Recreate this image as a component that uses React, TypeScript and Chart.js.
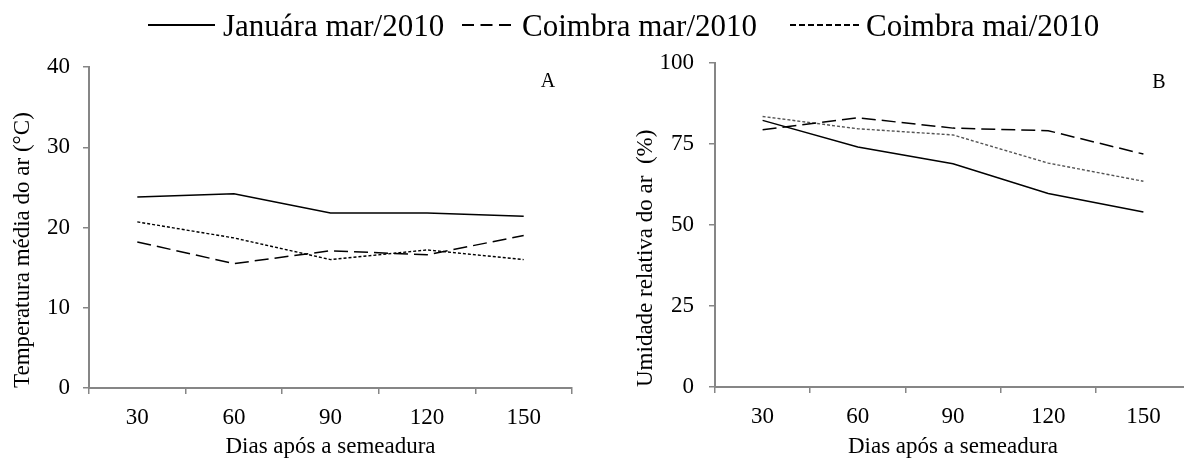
import React, { useEffect, useRef } from "react";
import { Chart, registerables } from "chart.js";

Chart.register(...registerables);

// ---- data ----
const categories = ["30", "60", "90", "120", "150"];
const seriesLabels = ["Januára mar/2010", "Coimbra mar/2010", "Coimbra mai/2010"];

const tempJanuaraMar = [23.8, 24.2, 21.8, 21.8, 21.4];
const tempCoimbraMar = [18.2, 15.5, 17.1, 16.6, 19.0];
const tempCoimbraMai = [20.7, 18.7, 16.0, 17.2, 16.0];

const humJanuaraMar = [82.3, 74.1, 68.9, 59.7, 54.0];
const humCoimbraMar = [79.4, 83.1, 79.9, 79.1, 71.9];
const humCoimbraMai = [83.5, 79.7, 77.8, 69.1, 63.5];

const tempRange = { min: 0, max: 40, step: 10 };
const humRange = { min: 0, max: 100, step: 25 };

const xTitle = "Dias após a semeadura";
const tempTitle = "Temperatura média do ar (°C)";
const humTitle = "Umidade relativa do ar  (%)";

const FONT = '"Liberation Serif", "Times New Roman", serif';
const AXIS_GRAY = "#868686";
const AXIS_FONT_SIZE = 23;

type PanelProps = {
  left: number;
  width: number;
  height: number;
  values: number[][];
  range: { min: number; max: number; step: number };
  yTitle: string;
  letter: string;
  padTop: number;
  padRight: number;
  yWidth: number;
  xHeight: number;
  yTitlePad: number;
  yTickPad: number;
  dottedColor: string;
  letterDx: number;
  letterDy: number;
};

function Panel(p: PanelProps) {
  const ref = useRef<HTMLCanvasElement | null>(null);
  useEffect(() => {
    if (!ref.current) return;
    const styles = [
      { dash: [] as number[], color: "#000", width: 1.5 },
      { dash: [14, 6], color: "#000", width: 1.5 },
      { dash: [3, 2], color: p.dottedColor, width: 1.4 },
    ];
    const letterPlugin = {
      id: "panelLetter",
      afterDraw(chart: any) {
        const { ctx, chartArea } = chart;
        ctx.save();
        ctx.font = `20px ${FONT}`;
        ctx.fillStyle = "#000";
        ctx.textAlign = "center";
        ctx.textBaseline = "middle";
        ctx.fillText(p.letter, chartArea.right - p.letterDx, chartArea.top + p.letterDy);
        ctx.restore();
      },
    };
    const chart = new Chart(ref.current, {
      type: "line",
      data: {
        labels: categories,
        datasets: p.values.map((v, i) => ({
          label: seriesLabels[i],
          data: v,
          borderColor: styles[i].color,
          borderWidth: styles[i].width,
          borderDash: styles[i].dash,
          pointRadius: 0,
          tension: 0,
          fill: false,
        })),
      },
      options: {
        animation: false,
        responsive: false,
        devicePixelRatio: 1,
        layout: { padding: { left: 0, top: p.padTop, right: p.padRight, bottom: 0 } },
        plugins: { legend: { display: false }, tooltip: { enabled: false } },
        scales: {
          x: {
            type: "category",
            offset: true,
            grid: {
              offset: true,
              drawOnChartArea: false,
              drawTicks: true,
              tickLength: 6,
              color: AXIS_GRAY,
              lineWidth: 1.5,
            },
            border: { color: AXIS_GRAY, width: 2 },
            ticks: { color: "#000", font: { family: FONT, size: AXIS_FONT_SIZE }, padding: 10, maxRotation: 0 },
            title: {
              display: true,
              text: xTitle,
              color: "#000",
              font: { family: FONT, size: AXIS_FONT_SIZE },
              padding: { top: 0, bottom: 0 },
            },
            afterFit: (scale: any) => {
              scale.height = p.xHeight;
            },
          },
          y: {
            min: p.range.min,
            max: p.range.max,
            grid: {
              drawOnChartArea: false,
              drawTicks: true,
              tickLength: 6,
              color: AXIS_GRAY,
              lineWidth: 1.5,
            },
            border: { color: AXIS_GRAY, width: 2 },
            ticks: {
              stepSize: p.range.step,
              color: "#000",
              font: { family: FONT, size: AXIS_FONT_SIZE },
              padding: p.yTickPad,
            },
            title: {
              display: true,
              text: p.yTitle,
              align: "start",
              color: "#000",
              font: { family: FONT, size: AXIS_FONT_SIZE },
              padding: { top: p.yTitlePad, bottom: 0 },
            },
            afterFit: (scale: any) => {
              scale.width = p.yWidth;
            },
          },
        },
      } as any,
      plugins: [letterPlugin],
    });
    return () => chart.destroy();
  }, []);
  return (
    <canvas
      ref={ref}
      width={p.width}
      height={p.height}
      style={{ position: "absolute", left: p.left, top: 0, width: p.width, height: p.height }}
    />
  );
}

function LegendSample({ left, width, dash, color }: { left: number; width: number; dash: string; color: string }) {
  return (
    <svg width={width} height={6} style={{ position: "absolute", left, top: 22 }}>
      <line x1={0} y1={3} x2={width} y2={3} stroke={color} strokeWidth={2} strokeDasharray={dash} />
    </svg>
  );
}

function LegendText({ left, text }: { left: number; text: string }) {
  return (
    <div
      style={{
        position: "absolute",
        left,
        top: 10,
        fontFamily: FONT,
        fontSize: 31,
        lineHeight: "31px",
        color: "#000",
        whiteSpace: "pre",
      }}
    >
      {text}
    </div>
  );
}

export default function App() {
  return (
    <div
      style={{
        position: "absolute",
        left: 0,
        top: 0,
        width: 1184,
        height: 461,
        overflow: "hidden",
        background: "#fff",
      }}
    >
      <Panel
        left={0}
        width={592}
        height={461}
        values={[tempJanuaraMar, tempCoimbraMar, tempCoimbraMai]}
        range={tempRange}
        yTitle={tempTitle}
        letter="A"
        padTop={67}
        padRight={20}
        yWidth={89}
        xHeight={73}
        yTitlePad={9}
        yTickPad={13}
        dottedColor="#000"
        letterDx={24}
        letterDy={15}
      />
      <Panel
        left={592}
        width={610}
        height={461}
        values={[humJanuaraMar, humCoimbraMar, humCoimbraMai]}
        range={humRange}
        yTitle={humTitle}
        letter="B"
        padTop={63}
        padRight={11}
        yWidth={123}
        xHeight={74}
        yTitlePad={40}
        yTickPad={15}
        dottedColor="#555"
        letterDx={32}
        letterDy={20}
      />
      <LegendSample left={148} width={67} dash="" color="#000" />
      <LegendText left={223} text={seriesLabels[0]} />
      <LegendSample left={462} width={49} dash="12 6.5" color="#000" />
      <LegendText left={522} text={seriesLabels[1]} />
      <LegendSample left={790} width={71} dash="6 3" color="#000" />
      <LegendText left={866} text={seriesLabels[2]} />
    </div>
  );
}
